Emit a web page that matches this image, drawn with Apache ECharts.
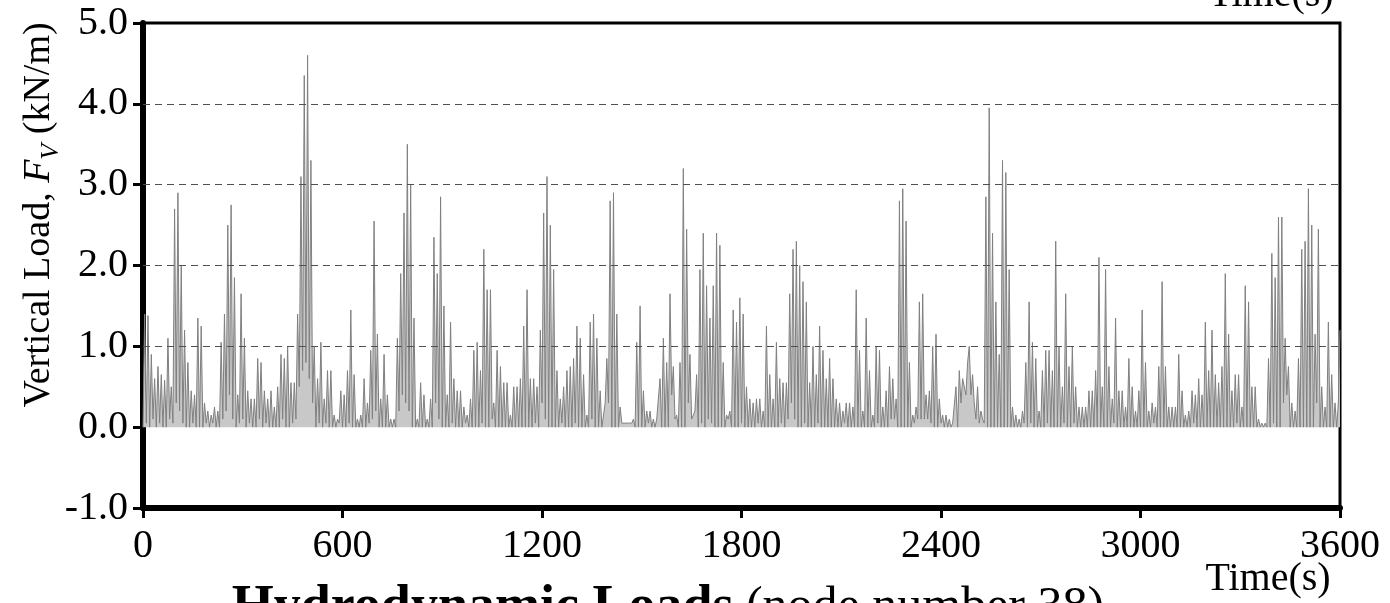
<!DOCTYPE html>
<html>
<head>
<meta charset="utf-8">
<script src="https://cdn.jsdelivr.net/npm/echarts@6/dist/echarts.min.js"></script>
<style>
html,body{margin:0;padding:0;background:#ffffff;}
#chart{width:1390px;height:603px;}
</style>
</head>
<body>
<div id="chart"></div>
<script>
// ---- chart data ----
const xTickValues = [0, 600, 1200, 1800, 2400, 3000, 3600];
const yTickValues = [-1, 0, 1, 2, 3, 4, 5];
const dashedGridValues = [1, 2, 3, 4];
const peakSpacing = 10; // s between successive spikes

// spike peaks (kN/m), one every 10 s starting at t = 5 s
const peakLoads = [
  1.4,1.38,0.9,0.6,0.75,0.65,0.58,1.1,0.5,2.7,
  2.9,2.0,1.2,0.8,0.45,0.4,1.35,1.25,0.3,0.2,
  0.15,0.25,0.2,1.05,1.4,2.5,2.75,1.85,0.4,1.65,
  1.1,0.45,0.35,0.35,0.85,0.8,0.45,0.35,0.45,0.25,
  0.5,0.9,0.85,1.0,0.55,0.55,1.4,3.1,4.35,4.6,
  3.3,1.0,0.6,1.05,0.35,0.7,0.7,0.15,0.1,0.45,
  0.4,0.7,1.45,0.65,0.1,0.15,0.6,0.3,0.95,2.55,
  1.15,0.35,
  0.9,0.4,0.1,0.1,1.1,1.9,2.65,3.5,3.0,1.35,
  0.1,0.55,0.4,0.1,0.35,2.35,1.9,2.85,1.5,0.4,
  1.3,0.6,0.45,0.45,0.25,0.15,0.35,0.95,1.05,0.7,
  2.2,1.7,1.7,0.3,0.95,0.75,0.55,0.55,0.15,0.5,
  0.5,0.6,1.25,1.7,0.6,0.6,0.5,1.2,2.65,3.1,
  2.5,1.95,0.7,0.35,0.5,0.7,0.75,0.85,1.25,1.1,
  0.65,0.15,1.3,1.4,1.1,0.45,0.15,0.85,2.8,2.9,
  1.4,0.25,
  0.05,0.05,0.05,0.1,1.05,1.5,0.45,0.2,0.2,0.1,
  0.1,0.6,1.1,0.8,1.65,0.75,0.15,0.8,3.2,2.45,
  0.9,0.15,0.65,1.95,2.4,1.75,1.35,1.75,2.4,2.25,
  0.8,0.15,0.2,1.45,1.3,1.6,1.4,0.5,0.35,0.3,
  0.35,0.35,0.2,1.25,0.65,0.35,1.05,0.6,0.55,0.55,
  1.65,2.2,2.3,2.0,1.8,1.55,0.55,1.0,0.65,1.25,
  0.95,0.6,0.85,0.6,0.35,0.3,0.2,0.3,0.3,0.25,
  1.7,0.95,
  0.2,1.35,0.7,0.15,1.0,0.95,0.25,0.45,0.75,0.6,
  0.35,2.8,2.95,2.55,0.8,0.15,0.25,1.55,1.65,0.4,
  0.45,1.0,1.15,0.35,0.15,0.15,0.1,0.05,0.5,0.7,
  0.6,0.4,1.0,0.65,0.1,0.05,0.1,2.85,3.95,2.4,
  1.55,0.9,3.3,3.15,1.95,0.25,0.15,0.1,0.2,0.8,
  1.55,1.05,0.85,0.2,0.7,0.95,0.95,0.7,2.3,1.0,
  0.5,1.65,0.75,1.0,0.5,0.25,0.25,0.25,0.45,0.45,
  0.7,2.1,
  0.5,1.95,0.75,0.35,1.35,0.45,0.45,0.25,0.85,0.5,
  0.2,0.45,1.45,0.8,0.2,0.3,0.25,0.75,1.8,0.75,
  0.25,0.25,0.25,0.9,0.45,0.15,0.2,0.45,0.4,0.6,
  0.4,1.3,0.7,1.2,0.65,0.55,0.75,1.9,1.15,0.45,
  0.65,0.65,0.25,1.75,1.55,0.5,0.5,0.1,0.05,0.05,
  0.85,2.15,1.85,2.6,2.6,1.1,0.75,0.3,0.2,0.85,
  2.2,2.3,2.95,2.5,1.15,2.45,0.5,0.25,1.3,0.65,
  0.3,0.3
];

// troughs (kN/m) between spikes, one every 10 s starting at t = 0 s
const troughLoads = [
  0,0.05,0,0.1,0,0.05,0,0,0.1,0.05, 0.3,0.2,0.05,0,0,0.05,0,0,0,0.05,
  0,0.05,0,0,0.1,0.2,0.4,0.1,0,0.05, 0.1,0,0.05,0,0,0.1,0,0.05,0,0,
  0,0,0.1,0,0,0.05,0.1,0.5,0.7,0.8, 0.6,0.3,0,0.05,0,0.05,0,0,0,0.05,
  0,0,0.05,0,0,0,0,0,0.05,0.1, 0.2,0,0,0,0,0,0,0.2,0.4,0.3,
  0.2,0,0,0,0,0,0,0,0.3,0.1, 0,0,0,0.05,0,0,0,0.05,0,0,
  0,0,0.05,0,0,0.1,0,0,0,0, 0,0,0,0,0,0,0,0,0.05,0,
  0.3,0.1,0,0,0,0,0.05,0,0,0, 0.05,0,0,0,0,0.1,0,0,0,0.3,
  0.3,0,0,0,0.05,0.05,0.05,0.05,0,0, 0,0,0.05,0,0,0.1,0,0,0,0.4,
  0.1,0,0,0,0.3,0.1,0.2,0,0.05,0, 0.1,0.05,0,0,0,0,0.1,0,0,0,
  0.05,0,0,0,0,0.05,0,0,0,0, 0,0,0.05,0,0.1,0.3,0.1,0,0,0.05,
  0,0,0,0.05,0,0,0,0,0,0, 0,0.05,0,0,0,0,0,0,0,0,
  0,0.05,0,0,0,0.1,0.1,0,0,0, 0,0,0.05,0.1,0.1,0.1,0.1,0.05,0,0,
  0.05,0,0,0,0.05,0,0.3,0.6,0.8,0.4, 0.3,0.5,0.2,0.05,0,0,0,0,0,0,
  0,0,0,0,0,0.05,0,0.05,0,0, 0,0,0.05,0,0,0,0,0.05,0,0,
  0.05,0,0,0,0,0,0,0,0,0, 0,0,0.05,0,0,0,0,0,0,0,
  0,0,0,0,0.05,0,0,0,0,0, 0,0,0,0,0,0,0.05,0,0,0,
  0,0,0,0,0,0,0,0,0,0.05, 0,0,0,0,0,0,0,0,0,0,
  0.05,0,0,0.3,0.4,0,0,0,0,0, 0,0,0,0.3,0,0,0,0,0,0,
  1.2
];

// ---- build the series points ----
const seriesData = [];
for (let i = 0; i < peakLoads.length; i++) {
  seriesData.push([i * peakSpacing, troughLoads[i]]);
  seriesData.push([i * peakSpacing + peakSpacing / 2, peakLoads[i]]);
}
seriesData.push([peakLoads.length * peakSpacing, troughLoads[peakLoads.length]]);

const SERIF = "'Liberation Serif', 'Times New Roman', 'DejaVu Serif', serif";
const chart = echarts.init(document.getElementById('chart'), null, {renderer: 'canvas'});

chart.setOption({
  animation: false,
  backgroundColor: '#ffffff',
  grid: {
    left: 143, right: 50, top: 23, bottom: 95,
    show: true, borderColor: '#000', borderWidth: 3, backgroundColor: 'transparent'
  },
  xAxis: {
    type: 'value',
    min: xTickValues[0], max: xTickValues[xTickValues.length - 1],
    interval: xTickValues[1] - xTickValues[0],
    axisLine: {show: true, onZero: false, lineStyle: {color: '#000', width: 6}},
    axisTick: {show: true, length: 10, lineStyle: {color: '#000', width: 3}},
    axisLabel: {color: '#000', fontFamily: SERIF, fontSize: 40, margin: 18,
      formatter: function (v) { return String(v); }},
    splitLine: {show: false}
  },
  yAxis: {
    type: 'value',
    min: yTickValues[0], max: yTickValues[yTickValues.length - 1],
    interval: yTickValues[1] - yTickValues[0],
    axisLine: {show: true, onZero: false, lineStyle: {color: '#000', width: 6}},
    axisTick: {show: true, length: 10, lineStyle: {color: '#000', width: 3}},
    axisLabel: {color: '#000', fontFamily: SERIF, fontSize: 40, margin: 15,
      formatter: function (v) { return v.toFixed(1); }},
    splitLine: {show: false}
  },
  series: [{
    type: 'line',
    data: seriesData,
    showSymbol: false,
    symbol: 'none',
    lineStyle: {color: '#808080', width: 1},
    areaStyle: {color: '#c8c8c8', opacity: 1, origin: 0},
    z: 2,
    markLine: {
      silent: true,
      symbol: 'none',
      label: {show: false},
      lineStyle: {color: '#505050', width: 1, type: [7, 5]},
      data: dashedGridValues.map(function (v) { return {yAxis: v}; })
    }
  }],
  graphic: [
    {
      type: 'text', x: 39, y: 215, rotation: Math.PI / 2,
      style: {
        text: 'Vertical Load, {i|F}{s|V} (kN/m)',
        fontFamily: SERIF, fontSize: 38, fill: '#000',
        align: 'center', verticalAlign: 'middle',
        rich: {
          i: {fontFamily: SERIF, fontSize: 38, fontStyle: 'italic', fill: '#000'},
          s: {fontFamily: SERIF, fontSize: 26, fontStyle: 'italic', fill: '#000', verticalAlign: 'bottom', lineHeight: 50}
        }
      }
    },
    {
      type: 'text', x: 668, y: 608,
      style: {
        text: '{b|Hydrodynamic Loads} {r|(node number 38)}',
        fontFamily: SERIF, fontSize: 50, fill: '#000',
        align: 'center', verticalAlign: 'middle',
        rich: {
          b: {fontFamily: SERIF, fontSize: 54, fontWeight: 'bold', fill: '#000'},
          r: {fontFamily: SERIF, fontSize: 50, fill: '#000'}
        }
      }
    },
    {
      type: 'text', x: 1268, y: 579,
      style: {text: 'Time(s)', fontFamily: SERIF, fontSize: 40, fill: '#000', align: 'center', verticalAlign: 'middle'}
    },
    {
      type: 'text', x: 1271, y: -5,
      style: {text: 'Time(s)', fontFamily: SERIF, fontSize: 40, fill: '#000', align: 'center', verticalAlign: 'middle'}
    }
  ]
});
</script>
</body>
</html>
